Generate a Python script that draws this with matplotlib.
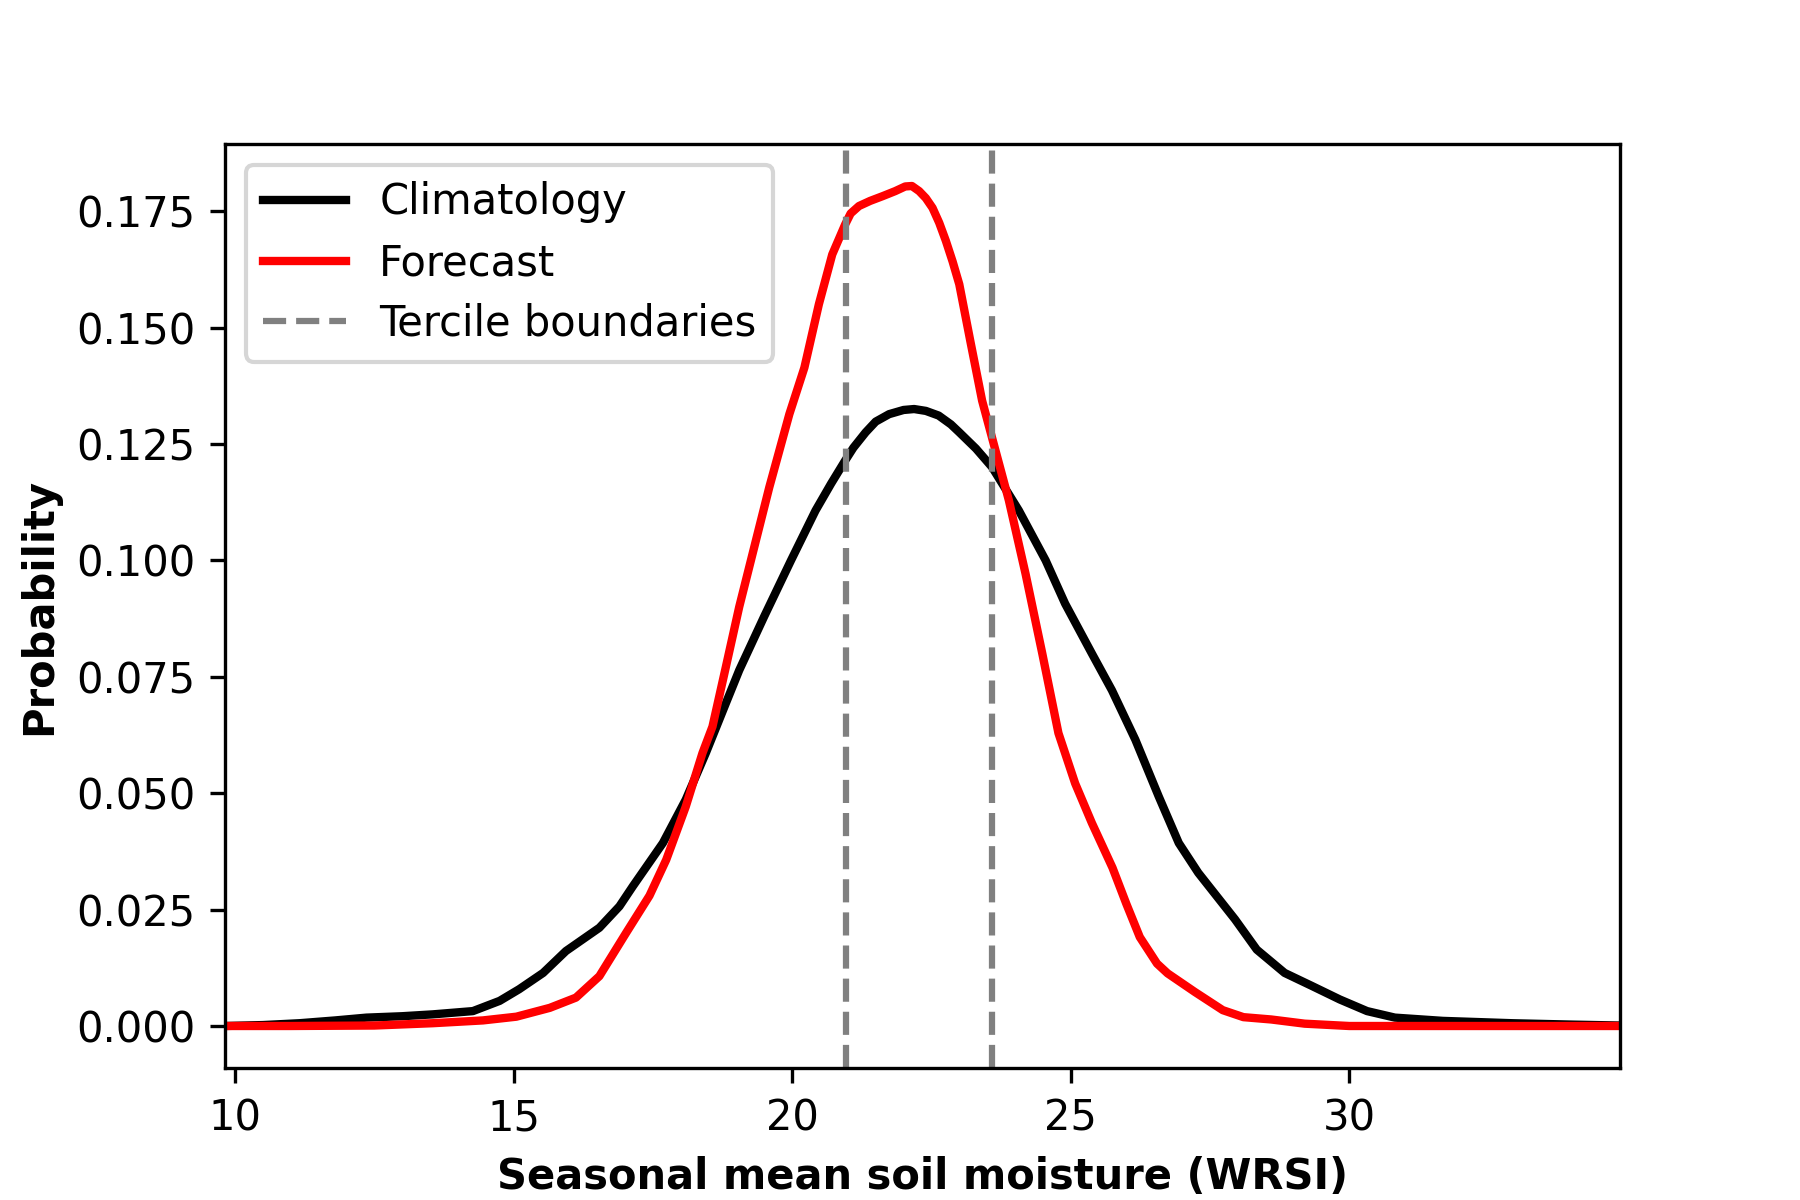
import matplotlib
matplotlib.use("Agg")
import matplotlib.pyplot as plt

# Climatology curve (black)
clim_x = [9.82, 10.5, 11.16, 11.8, 12.36, 13.0, 13.55, 14.27, 14.75, 15.1, 15.53, 15.94,
          16.54, 16.9, 17.14, 17.68, 18.09, 18.45, 18.81, 19.05, 19.5, 19.98, 20.42, 20.7,
          20.95, 21.1, 21.32, 21.5, 21.74, 22.0, 22.19, 22.4, 22.63, 22.85, 23.0, 23.3,
          23.59, 24.07, 24.55, 24.9, 25.38, 25.74, 26.16, 26.58, 26.94, 27.29, 27.95,
          28.34, 28.84, 29.33, 29.83, 30.32, 30.82, 31.68, 32.92, 34.0, 34.86]
clim_y = [0.0, 0.0002, 0.0006, 0.0012, 0.0018, 0.0021, 0.0025, 0.0032, 0.0054, 0.0079,
          0.0114, 0.0161, 0.0211, 0.0257, 0.0300, 0.0393, 0.0486, 0.0586, 0.0693, 0.0764,
          0.0880, 0.1000, 0.1107, 0.1165, 0.1214, 0.1242, 0.1275, 0.1298, 0.1314, 0.1323,
          0.1325, 0.1321, 0.1311, 0.1292, 0.1275, 0.1240, 0.1200, 0.1107, 0.1000, 0.0907,
          0.0800, 0.0721, 0.0615, 0.0493, 0.0393, 0.0329, 0.0229, 0.0164, 0.0114, 0.0086,
          0.0057, 0.0032, 0.0018, 0.0011, 0.0006, 0.0003, 0.0001]

# Forecast curve (red)
fc_x = [9.82, 11.0, 12.5, 13.55, 14.45, 15.05, 15.65, 16.12, 16.54, 17.02, 17.44, 17.74,
        18.09, 18.39, 18.57, 18.81, 19.05, 19.26, 19.59, 19.95, 20.22, 20.48, 20.72, 20.95,
        21.05, 21.2, 21.4, 21.62, 21.85, 22.03, 22.15, 22.28, 22.4, 22.52, 22.64, 22.76,
        22.88, 23.0, 23.2, 23.41, 23.65, 23.89, 24.19, 24.49, 24.78, 25.08, 25.38, 25.75,
        26.0, 26.24, 26.55, 26.74, 27.23, 27.73, 28.1, 28.6, 29.2, 30.0, 32.0, 34.86]
fc_y = [0.0, 0.0, 0.0001, 0.0006, 0.0012, 0.0020, 0.0039, 0.0061, 0.0107, 0.0200, 0.0280,
        0.0357, 0.0471, 0.0586, 0.0643, 0.0771, 0.0900, 0.1000, 0.1157, 0.1314, 0.1414,
        0.1550, 0.1657, 0.1721, 0.1745, 0.1761, 0.1772, 0.1782, 0.1793, 0.1803, 0.1804,
        0.1793, 0.1778, 0.1757, 0.1725, 0.1686, 0.1642, 0.1593, 0.1470, 0.1343, 0.1236,
        0.1129, 0.0971, 0.0800, 0.0629, 0.0521, 0.0436, 0.0340, 0.0262, 0.0191, 0.0134,
        0.0113, 0.0073, 0.0034, 0.0019, 0.0014, 0.0005, 0.0, 0.0, 0.0]

# Tercile boundaries
terciles = [20.96, 23.59]

labels = ["Climatology", "Forecast", "Tercile boundaries"]

fig, ax = plt.subplots(figsize=(6, 4), dpi=300)
ax.plot(clim_x, clim_y, color="black", lw=2, label=labels[0])
ax.plot(fc_x, fc_y, color="red", lw=2, label=labels[1])
for i, t in enumerate(terciles):
    ax.axvline(t, color="gray", ls="--", lw=1.5, label=labels[2] if i == 0 else None)

ax.set_xlim(9.82, 34.86)
ax.set_xlabel("Seasonal mean soil moisture (WRSI)", fontweight="bold")
ax.set_ylabel("Probability", fontweight="bold")
ax.legend(loc="upper left", labelspacing=0.45)

fig.savefig("out.png", dpi=300)
